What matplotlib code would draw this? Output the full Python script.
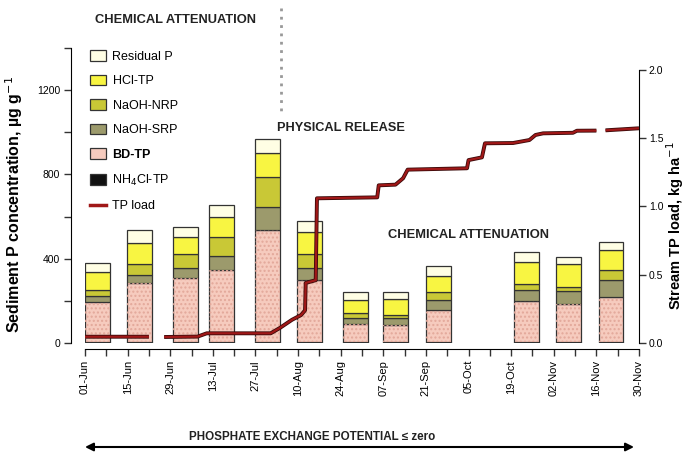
import numpy as np
import matplotlib
matplotlib.use("Agg")
import matplotlib.pyplot as plt
import matplotlib.dates as mdates
from matplotlib.patches import Patch
from matplotlib.lines import Line2D
from datetime import datetime, timedelta

NARROW = ["Liberation Sans Narrow", "Liberation Sans", "DejaVu Sans"]
plt.rcParams["font.family"] = ["Liberation Sans", "DejaVu Sans"]

# sampling dates (days after 01-Jun) and sediment P fractions, ug/g
start = datetime(2010, 6, 1)
bar_days = [4.1, 17.9, 32.9, 44.9, 59.9, 73.9, 89.0, 102.0, 116.2, 145.0, 158.9, 172.8]
nh4cl_tp = [4, 4, 4, 4, 4, 4, 4, 4, 4, 4, 4, 4]
bd_tp = [192, 279, 303, 342, 532, 295, 86, 81, 153, 197, 181, 216]
naoh_srp = [27, 39, 47, 67, 111, 55, 27, 32, 47, 50, 63, 79]
naoh_nrp = [28, 53, 68, 91, 142, 68, 24, 16, 39, 29, 16, 47]
hcl_tp = [87, 98, 82, 95, 114, 106, 63, 74, 75, 106, 111, 95]
residual_p = [43, 63, 45, 56, 66, 52, 39, 36, 47, 47, 32, 40]

# cumulative stream TP load, kg/ha (nan = missing)
load_days = [0, 21, 23, 26, 37, 40, 61, 64, 68, 71, 72.3, 72.5, 75.8, 76.2, 96, 96.5,
             102, 104.5, 106, 125.5, 126, 130.4, 131.4, 140.6, 146, 148, 150.5,
             160.3, 161.6, 168, 169.5, 171, 182]
tp_load = [0.046, 0.046, np.nan, 0.044, 0.047, 0.071, 0.071, 0.11, 0.17, 0.205, 0.24, 0.44,
           0.46, 1.06, 1.067, 1.155, 1.16, 1.207, 1.27, 1.28, 1.34, 1.36, 1.463, 1.465,
           1.487, 1.524, 1.536, 1.54, 1.555, 1.556, np.nan, 1.558, 1.573]

fractions = [
    ("NH$_4$Cl-TP", nh4cl_tp, "#111111"),
    ("BD-TP", bd_tp, "#F6CBBE"),
    ("NaOH-SRP", naoh_srp, "#9C9A6C"),
    ("NaOH-NRP", naoh_nrp, "#C9C836"),
    ("HCl-TP", hcl_tp, "#F8F542"),
    ("Residual P", residual_p, "#FFFEE4"),
]

W, H = 685, 454
fig = plt.figure(figsize=(W / 100, H / 100), dpi=100)
ax = fig.add_axes([85 / W, 1 - 343 / H, (639 - 85) / W, (343 - 48) / H])

x = [start + timedelta(days=d) for d in bar_days]
bottom = np.zeros(len(x))
for name, vals, col in fractions:
    vals = np.array(vals, dtype=float)
    ax.bar(x, vals, width=8.2, bottom=bottom, color=col, edgecolor="#333333",
           linewidth=0.9, zorder=2)
    if name == "BD-TP":
        ax.bar(x, vals, width=8.2, bottom=bottom, color="none", edgecolor="#e3a89a",
               hatch="....", linewidth=0, zorder=2.5)
    bottom += vals

ax.set_xlim(start, start + timedelta(days=182))
ax.set_ylim(0, 1400)
ax.spines["top"].set_visible(False)
ax.spines["right"].set_visible(False)
ax.spines["left"].set_position(("outward", 10))
ax.spines["bottom"].set_position(("outward", 4.3))
ax.spines["left"].set_bounds(0, 1400)
ax.set_yticks([0, 400, 800, 1200])
ax.set_yticks([200, 600, 1000, 1400], minor=True)
ticks = [start + timedelta(days=14 * i) for i in range(14)]
ax.set_xticks(ticks)
ax.set_xticks([start + timedelta(days=7 + 14 * i) for i in range(13)], minor=True)
ax.xaxis.set_major_formatter(mdates.DateFormatter("%d-%b"))
ax.tick_params(axis="both", which="both", length=5, width=1, color="#333333")
ax.tick_params(axis="x", labelrotation=90, labelsize=8, pad=3)
ax.tick_params(axis="y", labelsize=7.5, pad=3)
for lab in ax.get_xticklabels() + ax.get_yticklabels():
    lab.set_family(NARROW)
ax.set_ylabel("Sediment P concentration, µg g$^{-1}$", fontsize=11.5,
              fontweight="bold")
ax.yaxis.set_label_coords(-60 / (639 - 85), 0.47)

ax2 = ax.twinx()
ax2.set_ylim(0, 2.0 * 295 / 273)
for s in ["top", "left", "bottom"]:
    ax2.spines[s].set_visible(False)
ax2.spines["right"].set_bounds(0, 2.0)
ax2.set_yticks([0, 0.5, 1.0, 1.5, 2.0])
ax2.set_yticklabels(["0.0", "0.5", "1.0", "1.5", "2.0"])
ax2.tick_params(axis="y", length=5, width=1, color="#333333", labelsize=7.5, pad=2)
for lab in ax2.get_yticklabels():
    lab.set_family(NARROW)
ax2.set_ylabel("Stream TP load, kg ha$^{-1}$", fontsize=10.5, fontweight="bold")
ax2.yaxis.set_label_coords(1 + 25 / (639 - 85), 0.40)

load_x = [start + timedelta(days=d) for d in load_days]
ax2.plot(load_x, tp_load, color="#3a0a0a", linewidth=2.8, solid_capstyle="butt", zorder=3)
ax2.plot(load_x, tp_load, color="#a01818", linewidth=1.6, solid_capstyle="butt", zorder=4)

handles = [Patch(facecolor=c, edgecolor="#333333", linewidth=0.9, label=n)
           for n, v, c in reversed(fractions)]
handles.append(Line2D([], [], color="#a01818", linewidth=2.5, label="TP load"))
leg = fig.legend(handles=handles, loc="upper left", bbox_to_anchor=(90 / W, 1 - 50 / H),
                 frameon=False, handlelength=1.3, handleheight=0.95,
                 labelspacing=0.95, handletextpad=0.5, borderpad=0, borderaxespad=0,
                 prop={"family": NARROW, "size": 9})
for t in leg.get_texts():
    if t.get_text() == "BD-TP":
        t.set_fontweight("bold")

bold_txt = dict(family=NARROW, fontweight="bold", color="#222222",
                ha="center", va="center")
fig.text(175 / W, 1 - 20 / H, "CHEMICAL ATTENUATION", fontsize=9.3, **bold_txt)
fig.text(341 / W, 1 - 128 / H, "PHYSICAL RELEASE", fontsize=9.2, **bold_txt)
fig.text(468 / W, 1 - 235 / H, "CHEMICAL ATTENUATION", fontsize=9.3, **bold_txt)
fig.text(312 / W, 1 - 437 / H, "PHOSPHATE EXCHANGE POTENTIAL ≤ zero", fontsize=8.4,
         **bold_txt)
fig.add_artist(Line2D([281 / W, 281 / W], [1 - 8 / H, 1 - 112 / H], color="#999999",
                      linewidth=2, linestyle=(0, (1, 2))))
ax.annotate("", xy=(85 / W, 1 - 447 / H), xytext=(634 / W, 1 - 447 / H),
            xycoords="figure fraction", textcoords="figure fraction",
            arrowprops=dict(arrowstyle="<|-|>", color="black", lw=1.5,
                            mutation_scale=12, shrinkA=0, shrinkB=0))

fig.savefig("out.png", dpi=100)
